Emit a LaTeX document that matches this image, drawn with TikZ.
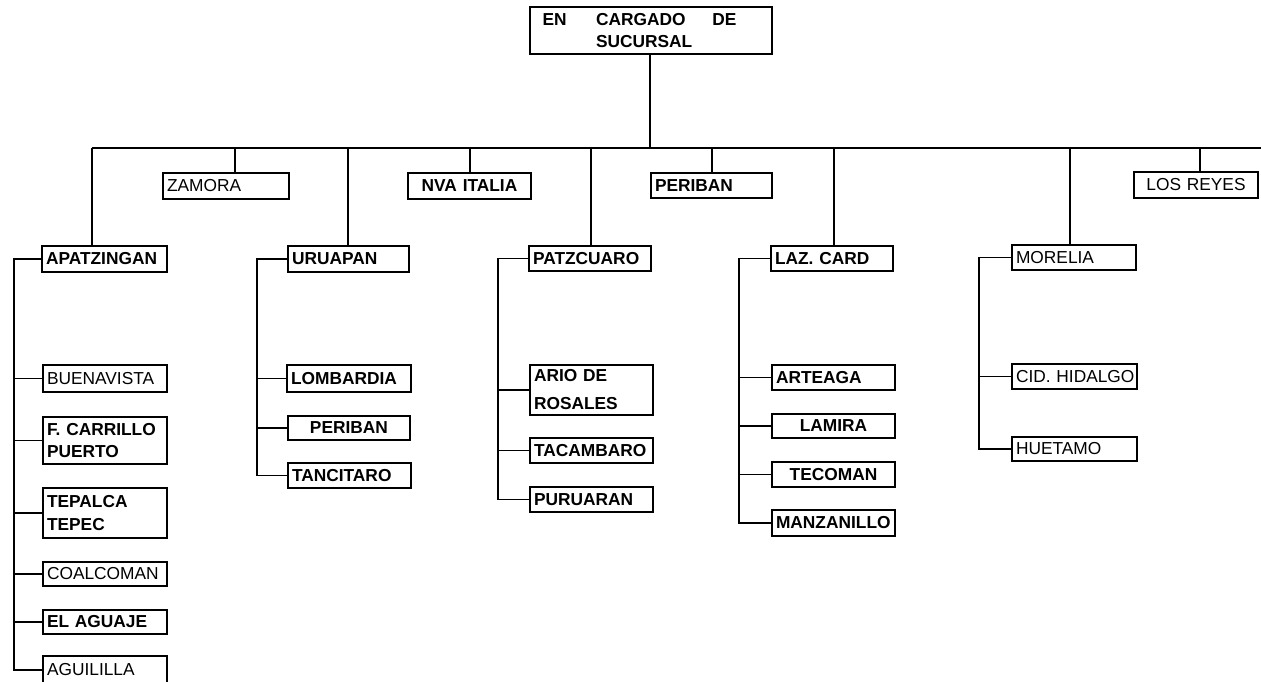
\documentclass[tikz,border=0pt]{standalone}
\usepackage{fontspec}
\setmainfont{Liberation Sans}
\hyphenpenalty=10000
\exhyphenpenalty=10000
\begin{document}
\begin{tikzpicture}[x=0.75pt,y=-0.75pt,
  bx/.style args={#1/#2}{draw, line width=1.4pt, inner xsep=3pt, inner ysep=0pt,
     text width={#1*0.75pt-6pt}, minimum height={#2*0.75pt}, align=left,
     font=\fontsize{13}{17}\selectfont},
  bd/.style={font=\fontsize{13}{17}\selectfont\bfseries},
  ctr/.style={align=center},
  ln/.style={line width=0.9pt},
]
\useasboundingbox (0,0) rectangle (1261,682);
\clip (0,0) rectangle (1261,682);
% top
\node[bx=242/47, bd] (top) at (651,30.5)
  {\hspace*{6.5pt}EN\hspace{22pt}CARGADO\hspace{20pt}DE\\\hspace*{46.5pt}SUCURSAL};
% level 2
\node[bx=126/26] (zam) at (226,186) {ZAMORA};
\node[bx=123/26, bd, ctr] (nva) at (469.5,186) {NVA~ITALIA};
\node[bx=121/25, bd] (per) at (711.5,185.5) {PERIBAN};
\node[bx=124/26, ctr] (los) at (1196,185) {LOS~REYES};
% level 3
\node[bx=125/26, bd] (apa) at (104.5,259) {APATZINGAN};
\node[bx=121/26, bd] (uru) at (348.5,259) {URUAPAN};
\node[bx=122/25, bd] (pat) at (590,258.5) {PATZCUARO};
\node[bx=122/25, bd] (laz) at (832,258.5) {LAZ.~CARD};
\node[bx=124/25] (mor) at (1074,257.5) {MORELIA};
% apatzingan children
\node[bx=124/27] (bue) at (105,378.5) {BUENAVISTA};
\node[bx=124/47, bd] (fca) at (105,440.5) {F. CARRILLO\\PUERTO};
\node[bx=124/50, bd] (tep) at (105,513) {TEPALCA\\TEPEC};
\node[bx=124/24] (coa) at (105,574) {COALCOMAN};
\node[bx=124/24, bd] (agua) at (105,622) {EL~AGUAJE};
\node[bx=124/28] (agu) at (105,670) {AGUILILLA};
% uruapan children
\node[bx=124/27, bd] (lom) at (349,378.5) {LOMBARDIA};
\node[bx=122/24, bd, ctr] (per2) at (349,428) {PERIBAN};
\node[bx=123/25, bd] (tan) at (349.5,475.5) {TANCITARO};
% patzcuaro children
\node[bx=123/50, bd, font=\fontsize{13}{21}\selectfont\bfseries] (ari) at (591.5,390) {ARIO DE\\ROSALES};
\node[bx=123/25, bd] (tac) at (591.5,450.5) {TACAMBARO};
\node[bx=123/25, bd] (pur) at (591.5,499.5) {PURUARAN};
% lazaro cardenas children
\node[bx=123/25, bd] (art) at (833.5,377.5) {ARTEAGA};
\node[bx=123/24, bd, ctr] (lam) at (833.5,426) {LAMIRA};
\node[bx=123/25, bd, ctr] (tec) at (833.5,474.5) {TECOMAN};
\node[bx=123/26, bd] (man) at (833.5,523) {MANZANILLO};
% morelia children
\node[bx=125/25] (cid) at (1074.5,376.5) {CID.~HIDALGO};
\node[bx=125/24] (hue) at (1074.5,449) {HUETAMO};
% bus and drops
\coordinate (d0) at (650,148);
\coordinate (d1) at (92,148);
\coordinate (d2) at (235,148);
\coordinate (d3) at (348,148);
\coordinate (d4) at (470,148);
\coordinate (d5) at (591,148);
\coordinate (d6) at (712,148);
\coordinate (d7) at (834,148);
\coordinate (d8) at (1070,148);
\coordinate (d9) at (1200,148);
\coordinate (br) at (1261,148);
\draw[ln] (d1) -- (br);
\draw[ln] (top.south -| d0) -- (d0);
\draw[ln] (d1) -- (d1 |- apa.north);
\draw[ln] (d2) -- (d2 |- zam.north);
\draw[ln] (d3) -- (d3 |- uru.north);
\draw[ln] (d4) -- (d4 |- nva.north);
\draw[ln] (d5) -- (d5 |- pat.north);
\draw[ln] (d6) -- (d6 |- per.north);
\draw[ln] (d7) -- (d7 |- laz.north);
\draw[ln] (d8) -- (d8 |- mor.north);
\draw[ln] (d9) -- (d9 |- los.north);
% side branches
\coordinate (sA) at (14,0);
\coordinate (sU) at (257,0);
\coordinate (sP) at (498,0);
\coordinate (sL) at (739,0);
\coordinate (sM) at (979,0);
\draw[ln] (apa.west) -- (apa.west -| sA) |- (agu.west);
\foreach \n in {bue,fca,tep,coa,agua} \draw[ln] (\n.west) -- (\n.west -| sA);
\draw[ln] (uru.west) -- (uru.west -| sU) |- (tan.west);
\foreach \n in {lom,per2} \draw[ln] (\n.west) -- (\n.west -| sU);
\draw[ln] (pat.west) -- (pat.west -| sP) |- (pur.west);
\foreach \n in {ari,tac} \draw[ln] (\n.west) -- (\n.west -| sP);
\draw[ln] (laz.west) -- (laz.west -| sL) |- (man.west);
\foreach \n in {art,lam,tec} \draw[ln] (\n.west) -- (\n.west -| sL);
\draw[ln] (mor.west) -- (mor.west -| sM) |- (hue.west);
\draw[ln] (cid.west) -- (cid.west -| sM);
\end{tikzpicture}
\end{document}
